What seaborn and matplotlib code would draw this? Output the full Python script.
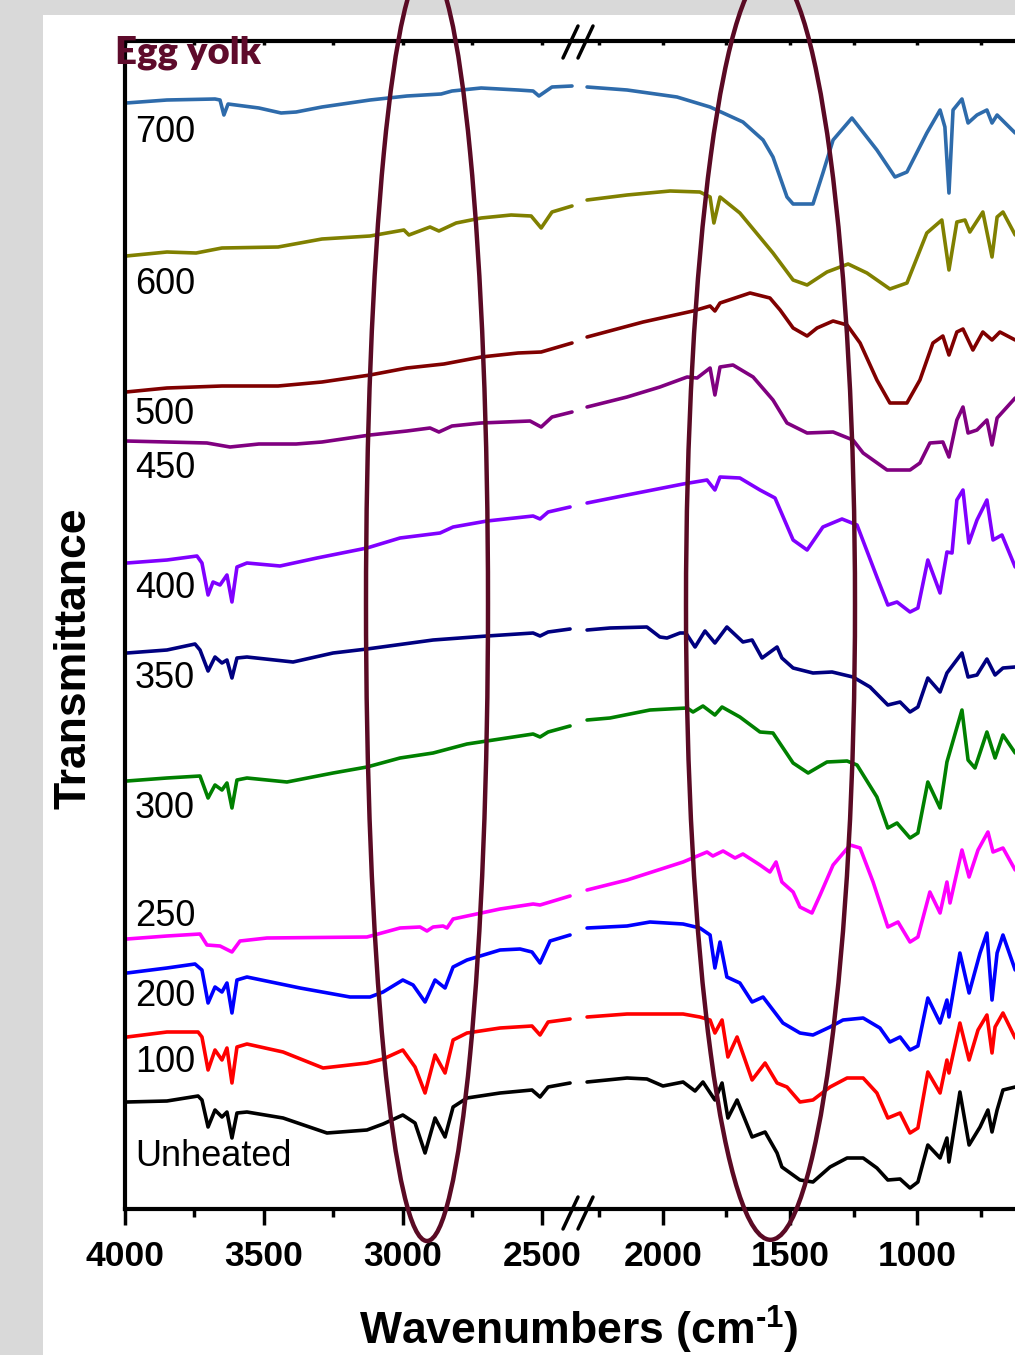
import numpy as np
import pandas as pd
import matplotlib
matplotlib.use("Agg")
import matplotlib.pyplot as plt
import seaborn as sns
from matplotlib.patches import Ellipse, Rectangle
from matplotlib.lines import Line2D
from matplotlib.ticker import FixedLocator

# ---------------- data (wavenumber cm-1, offset transmittance a.u.) ----------------
samples = ["700", "600", "500", "450", "400", "350", "300", "250", "200", "100", "Unheated"]
colors = ["#2E6BAB", "#808000", "#800000", "#800080", "#8000FF", "#000080",
          "#008000", "#FF00FF", "#0000FF", "#FF0000", "#000000"]

spec_700 = [(3996, 1105), (3849, 1108), (3676, 1109), (3658, 1108), (3644, 1093), (3629, 1104),
            (3518, 1100), (3438, 1095), (3384, 1096), (3291, 1101), (3118, 1108), (2985, 1112),
            (2862, 1114), (2823, 1117), (2718, 1120), (2585, 1118), (2531, 1117), (2510, 1112),
            (2463, 1121), (2391, 1122),
            (2297, 1121), (2140, 1118), (1944, 1111), (1814, 1101), (1685, 1086), (1606, 1068),
            (1567, 1051), (1512, 1011), (1488, 1004), (1410, 1004), (1371, 1035), (1331, 1068),
            (1257, 1090), (1159, 1058), (1088, 1031), (1041, 1036), (963, 1075), (911, 1098),
            (892, 1081), (876, 1015), (860, 1098), (825, 1109), (801, 1085), (766, 1093),
            (727, 1098), (707, 1085), (687, 1093), (616, 1075)]

spec_600 = [(3996, 952), (3849, 956), (3744, 955), (3651, 960), (3449, 961), (3291, 969),
            (3118, 972), (2996, 978), (2978, 973), (2902, 981), (2870, 977), (2808, 985),
            (2718, 990), (2610, 993), (2538, 992), (2502, 980), (2463, 996), (2391, 1002),
            (2297, 1008), (2140, 1013), (1971, 1017), (1854, 1016), (1814, 1011), (1799, 985),
            (1775, 1011), (1697, 995), (1567, 955), (1488, 928), (1433, 923), (1355, 936),
            (1272, 944), (1198, 935), (1108, 919), (1041, 925), (963, 975), (904, 988),
            (876, 938), (845, 986), (813, 988), (794, 976), (743, 996), (707, 951),
            (687, 991), (664, 996), (616, 973)]

spec_500 = [(3996, 816), (3849, 820), (3651, 822), (3449, 822), (3291, 826), (3118, 833),
            (2985, 840), (2852, 844), (2718, 851), (2585, 855), (2502, 856), (2391, 865),
            (2297, 871), (2077, 886), (1881, 897), (1814, 902), (1795, 897), (1775, 905),
            (1657, 915), (1579, 910), (1539, 898), (1488, 880), (1433, 872), (1394, 880),
            (1331, 887), (1276, 883), (1225, 865), (1159, 828), (1108, 805), (1041, 805),
            (990, 828), (939, 865), (900, 872), (876, 853), (845, 876), (821, 879),
            (782, 858), (743, 876), (707, 868), (676, 876), (616, 868)]

spec_450 = [(3996, 767), (3849, 766), (3705, 765), (3622, 761), (3518, 764), (3384, 764),
            (3291, 766), (3118, 773), (2985, 777), (2902, 780), (2870, 776), (2823, 782),
            (2718, 785), (2542, 787), (2502, 781), (2463, 791), (2391, 796),
            (2297, 801), (2140, 811), (2011, 821), (1904, 831), (1865, 830), (1814, 840),
            (1795, 813), (1775, 841), (1724, 843), (1645, 831), (1567, 808), (1512, 785),
            (1433, 775), (1331, 776), (1253, 768), (1213, 755), (1119, 738), (1029, 738),
            (990, 745), (951, 765), (900, 766), (876, 751), (845, 788), (821, 801),
            (801, 775), (766, 778), (727, 788), (707, 763), (687, 790), (616, 810)]

spec_400 = [(3993, 645), (3849, 648), (3741, 652), (3723, 645), (3701, 613), (3683, 626),
            (3658, 623), (3633, 633), (3615, 606), (3597, 641), (3561, 645), (3442, 642),
            (3309, 650), (3129, 660), (3010, 670), (2866, 675), (2819, 681), (2697, 687),
            (2531, 692), (2506, 689), (2477, 696), (2398, 701),
            (2297, 705), (2140, 713), (1920, 724), (1826, 728), (1795, 718), (1775, 731),
            (1697, 730), (1618, 718), (1559, 710), (1488, 668), (1433, 658), (1371, 681),
            (1296, 689), (1237, 683), (1159, 631), (1116, 603), (1080, 606), (1029, 596),
            (998, 600), (959, 648), (911, 615), (884, 656), (864, 655), (845, 708),
            (821, 718), (798, 665), (766, 688), (727, 708), (703, 668), (668, 673), (616, 641)]

spec_350 = [(3993, 555), (3849, 558), (3748, 564), (3730, 558), (3701, 537), (3676, 551),
            (3651, 545), (3633, 548), (3615, 530), (3597, 550), (3561, 551), (3395, 546),
            (3251, 555), (3129, 559), (2891, 568), (2697, 572), (2531, 575), (2506, 572),
            (2477, 576), (2398, 579),
            (2297, 578), (2207, 580), (2062, 581), (2011, 571), (1983, 570), (1932, 575),
            (1909, 575), (1873, 561), (1834, 577), (1795, 565), (1748, 581), (1685, 566),
            (1649, 568), (1610, 550), (1551, 561), (1532, 550), (1488, 540), (1410, 535),
            (1335, 536), (1253, 531), (1186, 521), (1116, 503), (1068, 506), (1029, 496),
            (998, 501), (959, 530), (911, 516), (884, 535), (825, 555), (801, 531),
            (766, 533), (727, 549), (695, 533), (664, 540), (616, 541)]

spec_300 = [(3993, 427), (3849, 430), (3730, 432), (3701, 410), (3676, 423), (3651, 418),
            (3633, 425), (3615, 400), (3597, 428), (3561, 430), (3417, 426), (3251, 435),
            (3129, 441), (3010, 450), (2891, 455), (2769, 464), (2531, 474), (2506, 471),
            (2477, 476), (2398, 482),
            (2297, 488), (2207, 490), (2050, 498), (1904, 500), (1881, 496), (1842, 502),
            (1795, 493), (1767, 501), (1697, 491), (1618, 476), (1567, 475), (1488, 445),
            (1429, 435), (1355, 446), (1276, 447), (1237, 443), (1159, 411), (1116, 380),
            (1080, 385), (1029, 370), (998, 375), (959, 426), (911, 400), (884, 446),
            (825, 498), (801, 448), (774, 440), (727, 476), (695, 450), (664, 473), (616, 455)]

spec_250 = [(3993, 269), (3849, 272), (3730, 274), (3705, 263), (3658, 262), (3615, 256),
            (3586, 267), (3489, 270), (3129, 271), (3010, 280), (2938, 281), (2913, 277),
            (2891, 281), (2855, 282), (2841, 280), (2819, 289), (2650, 299), (2531, 304),
            (2506, 303), (2398, 312),
            (2297, 318), (2140, 328), (1920, 346), (1826, 356), (1803, 352), (1763, 357),
            (1716, 350), (1685, 354), (1618, 343), (1579, 336), (1555, 346), (1532, 326),
            (1488, 316), (1461, 301), (1414, 295), (1382, 313), (1331, 343), (1264, 363),
            (1225, 360), (1174, 326), (1116, 281), (1076, 286), (1029, 266), (998, 271),
            (951, 316), (911, 295), (884, 326), (872, 305), (825, 358), (797, 331),
            (762, 358), (723, 376), (703, 356), (664, 360), (616, 338)]

spec_200 = [(3993, 235), (3849, 240), (3748, 244), (3723, 238), (3701, 205), (3676, 221),
            (3651, 216), (3633, 225), (3615, 195), (3597, 228), (3561, 231), (3370, 220),
            (3190, 211), (3118, 211), (3071, 216), (3000, 228), (2963, 223), (2920, 206),
            (2884, 228), (2848, 220), (2819, 241), (2769, 248), (2650, 258), (2578, 259),
            (2535, 256), (2506, 245), (2470, 267), (2398, 273),
            (2297, 280), (2140, 282), (2050, 286), (1920, 284), (1854, 280), (1814, 273),
            (1795, 240), (1775, 266), (1748, 231), (1697, 225), (1649, 206), (1606, 211),
            (1567, 198), (1528, 185), (1461, 175), (1410, 173), (1343, 181), (1292, 188),
            (1213, 190), (1147, 180), (1108, 166), (1068, 171), (1029, 158), (998, 162),
            (959, 210), (911, 185), (884, 208), (876, 191), (833, 255), (797, 215),
            (754, 255), (727, 275), (707, 208), (687, 255), (664, 273), (616, 238)]

spec_100 = [(3993, 171), (3849, 176), (3737, 176), (3723, 171), (3701, 138), (3676, 158),
            (3651, 148), (3633, 160), (3615, 125), (3597, 161), (3561, 164), (3431, 156),
            (3287, 140), (3129, 145), (3071, 149), (3000, 158), (2956, 141), (2920, 115),
            (2884, 153), (2848, 135), (2819, 168), (2769, 175), (2650, 180), (2535, 182),
            (2506, 173), (2477, 186), (2398, 189),
            (2297, 191), (2140, 194), (1920, 194), (1854, 191), (1814, 188), (1795, 175),
            (1767, 188), (1744, 151), (1708, 171), (1649, 128), (1598, 145), (1551, 125),
            (1512, 121), (1461, 106), (1410, 108), (1343, 121), (1276, 130), (1213, 130),
            (1159, 115), (1116, 90), (1068, 95), (1029, 75), (998, 80), (959, 136),
            (911, 115), (884, 148), (876, 135), (833, 185), (797, 148), (762, 178),
            (727, 193), (707, 155), (695, 181), (664, 195), (616, 170)]

spec_unheated = [(3993, 106), (3849, 107), (3737, 112), (3723, 108), (3701, 81), (3676, 98),
                 (3651, 91), (3633, 96), (3615, 70), (3597, 95), (3561, 96), (3431, 90),
                 (3273, 75), (3129, 78), (3071, 84), (3000, 93), (2956, 85), (2920, 55),
                 (2884, 90), (2848, 71), (2819, 101), (2769, 110), (2650, 115), (2535, 118),
                 (2506, 111), (2477, 121), (2398, 125),
                 (2297, 126), (2140, 130), (2062, 129), (1999, 122), (1920, 126), (1873, 117),
                 (1842, 126), (1795, 108), (1767, 125), (1744, 90), (1708, 108), (1649, 71),
                 (1598, 76), (1551, 55), (1532, 41), (1461, 28), (1410, 26), (1343, 41),
                 (1276, 50), (1213, 50), (1159, 40), (1116, 28), (1068, 29), (1029, 20),
                 (998, 26), (959, 63), (911, 50), (884, 70), (876, 46), (833, 116),
                 (797, 63), (754, 81), (723, 98), (707, 76), (687, 98), (664, 118), (616, 121)]

spectra = [spec_700, spec_600, spec_500, spec_450, spec_400, spec_350,
           spec_300, spec_250, spec_200, spec_100, spec_unheated]

break_wn = 2350
left_major = [4000, 3500, 3000, 2500]
left_minor = [3750, 3250, 2750]
right_major = [2000, 1500, 1000]
right_minor = [2250, 1750, 1250, 750]

# ---------------- build long table ----------------
rows = []
for name, spec in zip(samples, spectra):
    for wn, t in spec:
        rows.append({"wn": wn, "T": t, "sample": name,
                     "part": "left" if wn > break_wn else "right"})
df = pd.DataFrame(rows)
palette = dict(zip(samples, colors))

# ---------------- figure ----------------
sns.set_style("ticks")
plt.rcParams["font.family"] = ["Liberation Sans", "DejaVu Sans"]
plt.rcParams["mathtext.fontset"] = "custom"
plt.rcParams["mathtext.rm"] = "Liberation Sans:bold"
plt.rcParams["mathtext.default"] = "rm"
plt.rcParams["text.color"] = "black"
plt.rcParams["axes.edgecolor"] = "black"
plt.rcParams["xtick.color"] = "black"
plt.rcParams["xtick.labelcolor"] = "black"
plt.rcParams["lines.solid_joinstyle"] = "round"
plt.rcParams["lines.solid_capstyle"] = "round"

W, H = 1015, 1355
fig = plt.figure(figsize=(W / 100, H / 100), dpi=100, facecolor="#d9d9d9")

def fx(px):
    return px / W

def fy(py):
    return 1 - py / H

fig.patches.append(Rectangle((fx(43), 0), 1, fy(15), transform=fig.transFigure,
                             facecolor="white", edgecolor="none", zorder=-5))

ax_bottom, ax_top = fy(1209), fy(41)
axL = fig.add_axes([fx(125), ax_bottom, fx(577) - fx(125), ax_top - ax_bottom])
axR = fig.add_axes([fx(577), ax_bottom, fx(1070.2) - fx(577), ax_top - ax_bottom])

for ax, part in ((axL, "left"), (axR, "right")):
    sub = df[df["part"] == part]
    sns.lineplot(data=sub, x="wn", y="T", hue="sample", palette=palette,
                 hue_order=samples, sort=False, estimator=None, legend=False,
                 linewidth=2.6, ax=ax)
    ax.set_facecolor("none")
    ax.set_ylim(-1, 1167)
    ax.set_xlabel("")
    ax.set_ylabel("")
    ax.set_yticks([])
    for s in ax.spines.values():
        s.set_linewidth(3)
        s.set_color("black")
    ax.tick_params(axis="x", which="major", direction="out", length=11.5, width=2.5,
                   labelsize=25.5, pad=11, colors="black")
    ax.tick_params(axis="x", which="minor", direction="out", length=6, width=2.5,
                   colors="black")

axL.set_xlim(4000, 2373)
axR.set_xlim(2336.5, 400)
axL.xaxis.set_major_locator(FixedLocator(left_major))
axL.xaxis.set_minor_locator(FixedLocator(left_minor))
axR.xaxis.set_major_locator(FixedLocator(right_major))
axR.xaxis.set_minor_locator(FixedLocator(right_minor))
axL.set_xticklabels([str(v) for v in left_major], fontweight="bold", fontsize=25.5)
axR.set_xticklabels([str(v) for v in right_major], fontweight="bold", fontsize=25.5)
for ax in (axL, axR):
    ax.tick_params(axis="x", which="both", top=True, labeltop=False)
    # top ticks are tiny and point inward
    for t in ax.xaxis.get_major_ticks() + ax.xaxis.get_minor_ticks():
        t.tick2line.set_markersize(3)
        t.tick2line.set_marker(3)  # TICKDOWN
axL.spines["right"].set_visible(False)
axR.spines["left"].set_visible(False)

# curve labels
label_y = [130, 281, 411, 466, 586, 676, 806, 914, 993, 1060, 1153]
for name, cy in zip(samples, label_y):
    fig.text(fx(135), fy(cy + 12.5), name, fontsize=26, color="black",
             ha="left", va="baseline")

# axis labels and title
fig.text(fx(74), fy(658), "Transmittance", rotation=90, fontsize=32,
         fontweight="bold", ha="center", va="center", color="black")
fig.text(fx(579), fy(1345), r"Wavenumbers (cm$^{\text{-}1}$)", fontsize=32,
         fontweight="bold", ha="center", va="baseline", color="black")
fig.text(fx(115), fy(63), "Egg yolk", fontsize=27.5, fontweight="heavy",
         family=["Lato", "DejaVu Sans"], color="#5e0b2b", ha="left", va="baseline", zorder=10)

# axis break marks
for cy in (42, 1213):
    for cx in (570.5, 585.5):
        fig.lines.append(Line2D([fx(cx - 7.5), fx(cx + 7.5)], [fy(cy + 16), fy(cy - 16)],
                                transform=fig.transFigure, color="black", lw=2.5, zorder=6))

# highlight ellipses
ell_color = "#5a0a24"
for cx, cy, w, h in ((427, 603.5, 122, 1275), (770.5, 604.8, 169, 1270)):
    fig.patches.append(Ellipse((fx(cx), fy(cy)), w / W, h / H, transform=fig.transFigure,
                               fill=False, edgecolor=ell_color, lw=3.2, zorder=5))

fig.savefig("out.png", dpi=100, facecolor=fig.get_facecolor())
